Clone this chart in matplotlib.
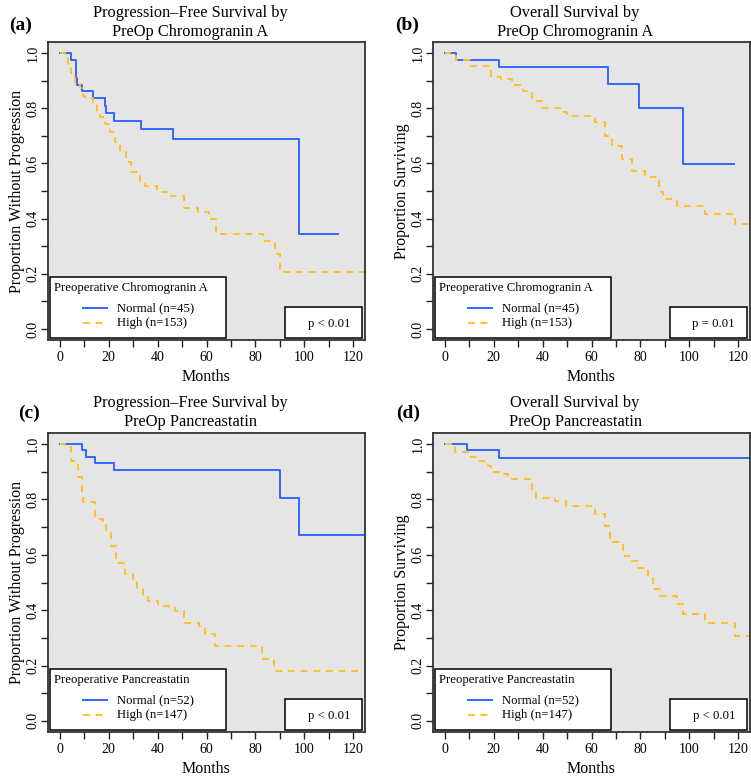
import matplotlib
matplotlib.use("Agg")
import matplotlib.pyplot as plt
from matplotlib.patches import Rectangle
from matplotlib.lines import Line2D

plt.rcParams["font.family"] = ["Liberation Serif", "DejaVu Serif"]
BLUE, GOLD, BG = "#3366FF", "#FFC125", "#E5E5E5"

# (a) PFS by chromogranin A  -- step curves (months, proportion)
a_norm_t = [0, 4.5, 6.5, 7.2, 9.1, 13.6, 18.4, 18.8, 22.1, 33.4, 46.3, 97.9, 113.7]
a_norm_s = [1.0, 0.976, 0.908, 0.885, 0.861, 0.836, 0.807, 0.783, 0.755, 0.725, 0.688, 0.344, 0.344]
a_high_t = [0, 2.0, 3.4, 4.5, 6.1, 8.2, 9.6, 10.2, 13.6, 15.3, 16.4, 18.4, 20.5, 22.5, 24.6, 27.0,
            29.3, 32.8, 34.8, 39.6, 44.6, 50.9, 56.5, 61.0, 63.9, 83.2, 87.9, 90.1, 126]
a_high_s = [1.0, 0.981, 0.954, 0.912, 0.888, 0.872, 0.845, 0.836, 0.812, 0.785, 0.767, 0.743, 0.713,
            0.676, 0.640, 0.604, 0.568, 0.534, 0.519, 0.495, 0.483, 0.437, 0.423, 0.399, 0.344, 0.320,
            0.272, 0.205, 0.205]

# (b) OS by chromogranin A
b_norm_t = [0, 4.8, 22.1, 66.9, 79.4, 97.6, 118.1]
b_norm_s = [1.0, 0.976, 0.949, 0.886, 0.800, 0.599, 0.599]
b_high_t = [0, 2.0, 4.8, 10.2, 19.1, 23.2, 27.3, 32.1, 35.5, 39.6, 47.0, 49.8, 61.4, 65.5, 68.3,
            72.4, 76.5, 81.9, 87.4, 88.5, 89.4, 94.9, 106.5, 118.8, 126]
b_high_s = [1.0, 0.988, 0.975, 0.954, 0.912, 0.906, 0.884, 0.864, 0.827, 0.800, 0.785, 0.773, 0.749,
            0.700, 0.664, 0.616, 0.574, 0.550, 0.519, 0.495, 0.471, 0.447, 0.417, 0.380, 0.380]

# (c) PFS by pancreastatin
c_norm_t = [0, 8.9, 10.9, 14.3, 22.1, 90.1, 98.0, 126]
c_norm_s = [1.0, 0.978, 0.954, 0.931, 0.905, 0.805, 0.671, 0.671]
c_high_t = [0, 2.0, 4.8, 7.5, 8.9, 9.5, 14.3, 17.6, 19.0, 21.1, 23.1, 26.5, 29.9, 31.4, 34.1, 36.2,
            40.3, 44.6, 47.3, 50.9, 57.1, 59.4, 63.5, 82.6, 87.4, 123.5]
c_high_s = [1.0, 0.988, 0.940, 0.880, 0.816, 0.790, 0.729, 0.717, 0.681, 0.632, 0.572, 0.530, 0.512,
            0.476, 0.452, 0.434, 0.416, 0.410, 0.398, 0.355, 0.343, 0.313, 0.271, 0.223, 0.181, 0.181]

# (d) OS by pancreastatin
d_norm_t = [0, 9.1, 22.1, 126]
d_norm_s = [1.0, 0.978, 0.951, 0.951]
d_high_t = [0, 4.1, 9.5, 14.2, 17.6, 19.0, 22.4, 25.8, 35.5, 37.5, 44.9, 49.7, 61.4, 65.5, 67.5,
            73.0, 76.5, 79.2, 83.3, 85.3, 88.0, 94.9, 97.6, 106.5, 118.8, 126]
d_high_s = [1.0, 0.970, 0.952, 0.940, 0.922, 0.900, 0.892, 0.873, 0.831, 0.807, 0.795, 0.777, 0.747,
            0.705, 0.645, 0.596, 0.578, 0.554, 0.524, 0.478, 0.452, 0.422, 0.386, 0.355, 0.307, 0.307]

titles = ["Progression\u2013Free Survival by\nPreOp Chromogranin A", "Overall Survival by\nPreOp Chromogranin A",
          "Progression\u2013Free Survival by\nPreOp Pancreastatin", "Overall Survival by\nPreOp Pancreastatin"]
ylabels = ["Proportion Without Progression", "Proportion Surviving"] * 2
leg_titles = ["Preoperative Chromogranin A"] * 2 + ["Preoperative Pancreastatin"] * 2
leg_labels = [("Normal (n=45)", "High (n=153)")] * 2 + [("Normal (n=52)", "High (n=147)")] * 2
pvals = ["p < 0.01", "p = 0.01", "p < 0.01", "p < 0.01"]
letters = ["(a)", "(b)", "(c)", "(d)"]

W, H = 751, 776
fig = plt.figure(figsize=(W / 100, H / 100), dpi=100)
# axes boxes in pixels: left, top, width, height
boxes = [(48, 42, 317, 298), (433, 42, 317, 298), (48, 433, 317, 299), (433, 433, 317, 299)]
letter_pos = [(21, 25), (407, 25), (29, 413), (408, 413)]
curves = [(a_norm_t, a_norm_s, a_high_t, a_high_s), (b_norm_t, b_norm_s, b_high_t, b_high_s),
          (c_norm_t, c_norm_s, c_high_t, c_high_s), (d_norm_t, d_norm_s, d_high_t, d_high_s)]

for i in range(4):
    l, t, w, h = boxes[i]
    ax = fig.add_axes([l / W, 1 - (t + h) / H, w / W, h / H])
    ax.set_facecolor(BG)
    nt, ns, ht, hs = curves[i]
    ax.plot(nt, ns, drawstyle="steps-post", color=BLUE, lw=1.4)
    ax.plot(ht, hs, drawstyle="steps-post", color=GOLD, lw=1.4, ls=(0, (3.5, 3)))
    ax.set_xlim(-4.8, 124.8); ax.set_ylim(-0.04, 1.04)
    ax.set_xticks(range(0, 121, 10))
    ax.set_xticklabels([str(v) if v % 20 == 0 else "" for v in range(0, 121, 10)])
    yt = [k / 10 for k in range(11)]
    ax.set_yticks(yt)
    ax.set_yticklabels([f"{v:.1f}" if k % 2 == 0 else "" for k, v in enumerate(yt)])
    for lab in ax.get_yticklabels():
        lab.set_rotation(90); lab.set_va("center"); lab.set_ha("right")
    ax.tick_params(length=5, width=1, labelsize=10, pad=3, color="#222222")
    ax.tick_params(axis="y", pad=1.2)
    for s in ax.spines.values():
        s.set_linewidth(1.3); s.set_color("#333333")
    ax.set_xlabel("Months", fontsize=11.5)
    ax.set_ylabel(ylabels[i], fontsize=11.5)
    ax.xaxis.set_label_coords(0.5, -0.097)
    ax.yaxis.set_label_coords(-0.071, 0.5)
    ax.text(0.448, 1.067, titles[i], transform=ax.transAxes, ha="center", va="center",
            fontsize=11.8, linespacing=1.25)
    lx, ly = letter_pos[i]
    fig.text(lx / W, 1 - ly / H, letters[i], ha="center", va="center", fontsize=14, fontweight="bold")

    # legend box
    ax.add_patch(Rectangle((0.0063, 0.0067), 0.555, 0.205, transform=ax.transAxes,
                           facecolor="white", edgecolor="black", lw=1.1, zorder=5))
    ax.text(0.019, 0.173, leg_titles[i], transform=ax.transAxes, ha="left", va="center",
            fontsize=9.2, zorder=6)
    ax.add_line(Line2D([0.110, 0.186], [0.106, 0.106], transform=ax.transAxes, color=BLUE,
                       lw=1.4, zorder=6))
    ax.add_line(Line2D([0.110, 0.186], [0.056, 0.056], transform=ax.transAxes, color=GOLD,
                       lw=1.4, ls=(0, (3.5, 3)), zorder=6))
    ax.text(0.218, 0.106, leg_labels[i][0], transform=ax.transAxes, ha="left", va="center",
            fontsize=9.2, zorder=6)
    ax.text(0.218, 0.056, leg_labels[i][1], transform=ax.transAxes, ha="left", va="center",
            fontsize=9.2, zorder=6)
    # p-value box
    ax.add_patch(Rectangle((0.749, 0.0067), 0.24, 0.104, transform=ax.transAxes,
                           facecolor="white", edgecolor="black", lw=1.1, zorder=5))
    ax.text(0.953, 0.054, pvals[i], transform=ax.transAxes, ha="right", va="center",
            fontsize=9.2, zorder=6)

fig.savefig("out.png", dpi=100)
